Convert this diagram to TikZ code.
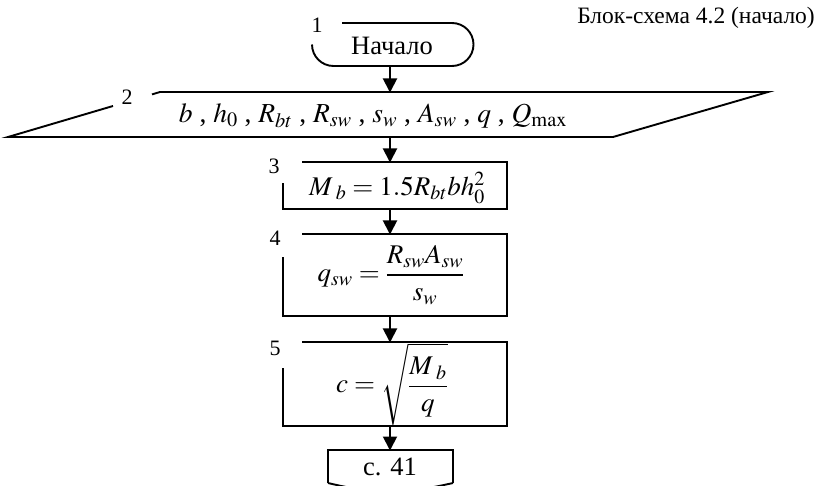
\documentclass[tikz,border=0pt]{standalone}
\usepackage{mathptmx}
\usepackage{fontspec}
\setmainfont{Liberation Serif}
\usetikzlibrary{arrows.meta}
\newcommand\fbig{\fontsize{27}{31}\selectfont}
\newcommand\fpar{\fontsize{27.5}{31}\selectfont}
\newcommand\fterm{\fontsize{26.5}{30}\selectfont}
\newcommand\fmid{\fontsize{22}{26}\selectfont}
\newcommand\fttl{\fontsize{23.5}{27}\selectfont}
\begin{document}
\begin{tikzpicture}[x=1pt,y=-1pt,
  shp/.style={line width=1.9pt, line join=miter},
  arr/.style={line width=1.9pt, -{Triangle[length=14pt,width=14pt]}, shorten >=-0.5pt},
  lbl/.style={font=\fmid, inner sep=0pt},
  txt/.style={font=\fbig, inner sep=0pt}]
\useasboundingbox (0,0) rectangle (822,486);
\clip (0,0) rectangle (822,486);
% title
\node[inner sep=0pt, font=\fttl, anchor=east] (title) at (815,18) {Блок-схема 4.2 (начало)};
% 1 terminator
\draw[shp] (342,23) -- (452,23) arc[start angle=-90, end angle=90, radius=21.5] -- (333.5,66) arc[start angle=90, end angle=180, radius=21.5];
\node[lbl] (n1) at (317,25) {1};
\node[inner sep=0pt, font=\fterm] (t1) at (392,46) {Начало};
\coordinate (t1b) at (390,66);
% 2 parallelogram
\draw[shp] (152,94.4) -- (160,92) -- (768,92) -- (613,137) -- (8,137) -- (113,106);
\node[lbl] (n2) at (127,97) {2};
\node[inner sep=0pt, font=\fpar] (t2) at (373,116) {$b$ , $h_0$ , $R_{bt}$ , $R_{sw}$ , $s_w$ , $A_{sw}$ , $q$ , $Q_{\max}$};
\coordinate (p2t) at (390,92);
\coordinate (p2b) at (390,137);
% 3
\draw[shp] (302,162) -- (507,162) -- (507,209) -- (283,209) -- (283,183);
\node[lbl] (n3) at (274,166) {3};
\node[txt] (t3) at (397,188) {$M_{\hspace{5pt}b} = 1.5R_{bt}bh_0^2$};
\coordinate (b3t) at (390,162);
\coordinate (b3b) at (390,209);
% 4
\draw[shp] (302,234) -- (507,234) -- (507,316) -- (283,316) -- (283,257);
\node[lbl] (n4) at (275,238) {4};
\node[txt] (t4) at (391,275) {$\displaystyle q_{sw} = \frac{R_{sw}A_{sw}}{s_w}$};
\coordinate (b4t) at (390,234);
\coordinate (b4b) at (390,316);
% 5
\draw[shp] (302,342) -- (507,342) -- (507,426) -- (283,426) -- (283,368);
\node[lbl] (n5) at (275,348) {5};
\node[txt] (t5) at (392,384) {$\displaystyle c = \sqrt{\frac{M_{\hspace{5pt}b}}{q}}$};
\coordinate (b5t) at (390,342);
\coordinate (b5b) at (390,426);
% off-page connector
\draw[shp] (328,483) -- (328,450) -- (453,450) -- (453,483);
\draw[shp] (328,483) .. controls (345,487) .. (390,494) .. controls (435,487) .. (453,483);
\node[inner sep=0pt, font=\fterm] (t6) at (390,467) {с. 41};
\coordinate (c6t) at (390,450);
% connectors
\draw[arr] (t1b) -- (p2t);
\draw[arr] (p2b) -- (b3t);
\draw[arr] (b3b) -- (b4t);
\draw[arr] (b4b) -- (b5t);
\draw[arr] (b5b) -- (c6t);
\end{tikzpicture}
\end{document}
